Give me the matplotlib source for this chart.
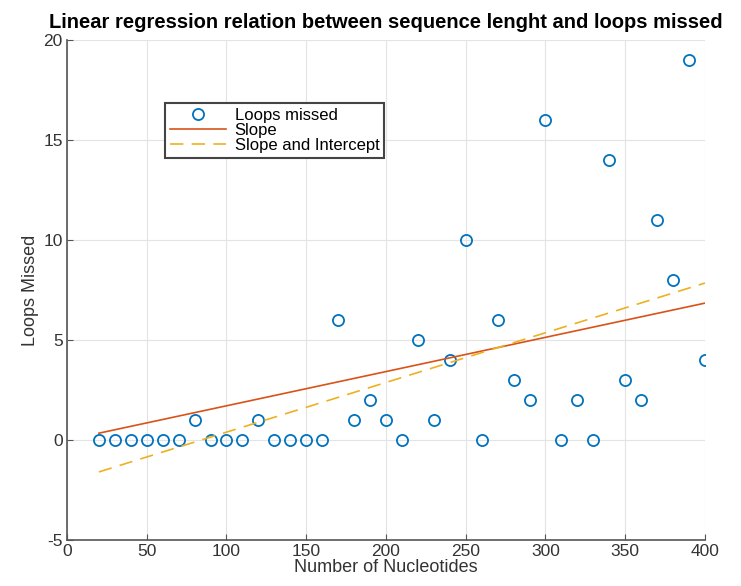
import numpy as np
import matplotlib.pyplot as plt

plt.rcParams['font.family'] = ['Liberation Sans', 'DejaVu Sans']
plt.rcParams['axes.unicode_minus'] = False

# data
nucleotides = np.arange(20, 401, 10)
loops_missed = [0, 0, 0, 0, 0, 0, 1, 0, 0, 0, 1, 0, 0, 0, 0, 6, 1, 2, 1, 0,
                5, 1, 4, 10, 0, 6, 3, 2, 16, 0, 2, 0, 14, 3, 2, 11, 8, 19, 4]

x = nucleotides.astype(float)
y = np.array(loops_missed, dtype=float)

# regression through origin and with intercept
b1 = np.sum(x * y) / np.sum(x * x)
A = np.column_stack([np.ones_like(x), x])
b0, b2 = np.linalg.lstsq(A, y, rcond=None)[0]

fig = plt.figure(figsize=(7.41, 5.86), dpi=100)
ax = fig.add_axes([0.0904, 0.0785, 0.861, 0.853])

ax.plot(x, y, 'o', markerfacecolor='none', markeredgecolor='#0072BD',
        markersize=8, markeredgewidth=1.3, label='Loops missed')
ax.plot(x, b1 * x, '-', color='#D95319', linewidth=1.2, label='Slope')
ax.plot(x, b0 + b2 * x, '--', color='#EDB120', linewidth=1.2,
        dashes=(8, 5), label='Slope and Intercept')

ax.set_xlim(0, 400)
ax.set_ylim(-5, 20)
ax.set_xticks(np.arange(0, 401, 50))
ax.set_yticks(np.arange(-5, 21, 5))
ax.grid(True, color='#e3e3e3', linewidth=0.8)
ax.set_axisbelow(True)
for s in ['top', 'right']:
    ax.spines[s].set_visible(False)
for s in ['left', 'bottom']:
    ax.spines[s].set_color('#555555')
    ax.spines[s].set_linewidth(1.2)
ax.tick_params(direction='in', length=4, colors='#555555', labelcolor='#333333',
               labelsize=12.5, pad=3)

ax.set_xlabel('Number of Nucleotides', fontsize=13, color='#333333', labelpad=0)
ax.set_ylabel('Loops Missed', fontsize=13, color='#333333', labelpad=3)
ax.set_title('Linear regression relation between sequence lenght and loops missed',
             fontsize=14.5, fontweight='bold', pad=9)

leg = ax.legend(loc='upper left', bbox_to_anchor=(0.153, 0.874), fontsize=12,
                handlelength=3.4, labelspacing=0.0, borderpad=0.3,
                handletextpad=0.5, borderaxespad=0, fancybox=False, framealpha=1)
leg.get_frame().set_edgecolor('#444444')
leg.get_frame().set_linewidth(1.5)

plt.savefig('out.png', dpi=100)
